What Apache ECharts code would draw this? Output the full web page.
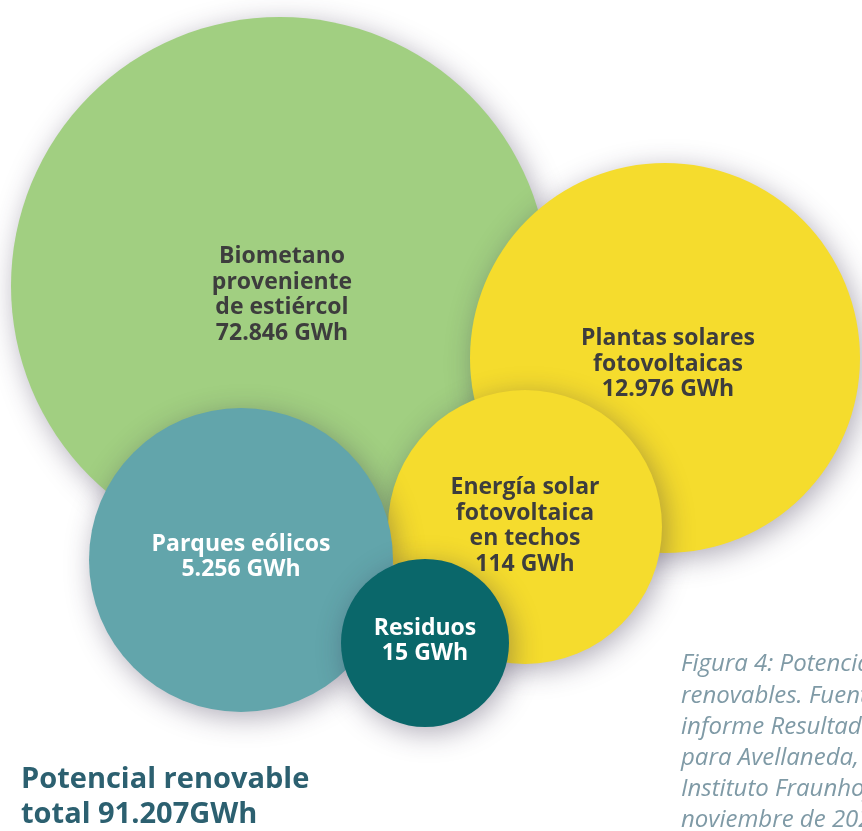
<!DOCTYPE html>
<html>
<head>
<meta charset="utf-8">
<script src="https://cdn.jsdelivr.net/npm/echarts@6/dist/echarts.min.js"></script>
<style>
html,body{margin:0;padding:0;background:#fff;}
#chart{width:862px;height:831px;}
</style>
</head>
<body>
<div id="chart"></div>
<script>
// Data
const categories = ['Biometano\nproveniente\nde estiércol', 'Plantas solares\nfotovoltaicas', 'Energía solar\nfotovoltaica\nen techos', 'Parques eólicos', 'Residuos'];
const valuesGWh = [72846, 12976, 114, 5256, 15];
const totalGWh = 91207;
const titleLines = ['Potencial renovable', 'total 91.207GWh'];
const captionLines = ['Figura 4: Potencial de energías', 'renovables. Fuente: elaborado con', 'informe Resultados del estudio', 'para Avellaneda, Santa Fe,', 'Instituto Fraunhofer ISE,', 'noviembre de 2023.'];

// Layout (pixel positions of bubble centres and radii; not data)
const bubbleX = [280, 665, 525, 241, 425];
const bubbleY = [286, 358, 527, 560, 643];
const bubbleR = [269, 195, 137, 152, 84];
const bubbleColors = ['#a1cf81', '#f5dc2d', '#f5dc2d', '#62a5ab', '#0a676a'];
const labelColors = ['#3d3d3d', '#3d3d3d', '#3d3d3d', '#ffffff', '#ffffff'];
const labelOffsets = [[2, 9], [3, 6], [0, -1], [0, -3], [0, -2]];

function fmt(v) {
  return String(v).replace(/\B(?=(\d{3})+(?!\d))/g, '.');
}

const seriesData = categories.map((c, i) => ({
  name: c,
  value: [bubbleX[i], bubbleY[i], valuesGWh[i]],
  symbolSize: bubbleR[i] * 2,
  itemStyle: { color: bubbleColors[i] },
  label: { color: labelColors[i], offset: labelOffsets[i] }
}));

const chart = echarts.init(document.getElementById('chart'), null, { renderer: 'canvas' });
chart.setOption({
  animation: false,
  backgroundColor: '#ffffff',
  grid: { left: 0, right: 0, top: 0, bottom: 0 },
  xAxis: { type: 'value', min: 0, max: 862, show: false },
  yAxis: { type: 'value', min: 0, max: 831, inverse: true, show: false },
  series: [{
    type: 'scatter',
    symbol: 'circle',
    data: seriesData,
    itemStyle: {
      opacity: 1,
      shadowBlur: 28,
      shadowColor: 'rgba(50,40,70,0.38)',
      shadowOffsetX: 4,
      shadowOffsetY: 6
    },
    label: {
      show: true,
      position: 'inside',
      fontFamily: 'Open Sans',
      fontWeight: 'bold',
      fontSize: 23,
      lineHeight: 25.5,
      align: 'center',
      formatter: p => p.name + '\n' + fmt(p.value[2]) + ' GWh'
    },
    emphasis: { disabled: true }
  }],
  graphic: [
    {
      type: 'text',
      left: 21,
      top: 762,
      style: {
        text: titleLines.join('\n'),
        fontFamily: 'Open Sans',
        fontWeight: 'bold',
        fontSize: 29,
        lineHeight: 35,
        fill: '#2c6070'
      }
    },
    {
      type: 'text',
      left: 681,
      top: 649,
      style: {
        text: captionLines.join('\n'),
        fontFamily: 'Open Sans',
        fontStyle: 'italic',
        fontWeight: 'normal',
        fontSize: 24,
        lineHeight: 31.2,
        fill: '#7f9aa6'
      }
    }
  ]
});
</script>
</body>
</html>
